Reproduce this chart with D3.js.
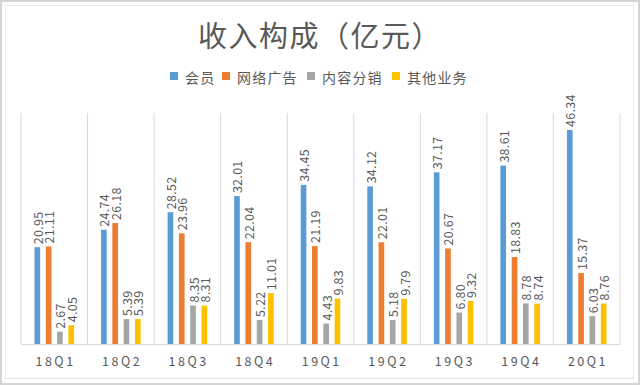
<!DOCTYPE html>
<html>
<head>
<meta charset="utf-8">
<script src="https://cdn.jsdelivr.net/npm/d3@7.9.0/dist/d3.min.js"></script>
<style>
  html, body { margin: 0; padding: 0; background: #fff; }
  svg { display: block; font-family: "Noto Sans CJK SC", "Noto Sans", sans-serif; }
</style>
</head>
<body>
<div id="chart"></div>
<script>
  const quarters = ['18Q1', '18Q2', '18Q3', '18Q4', '19Q1', '19Q2', '19Q3', '19Q4', '20Q1'];
  const seriesNames = ['会员', '网络广告', '内容分销', '其他业务'];
  const member = [20.95, 24.74, 28.52, 32.01, 34.45, 34.12, 37.17, 38.61, 46.34];
  const ads = [21.11, 26.18, 23.96, 22.04, 21.19, 22.01, 20.67, 18.83, 15.37];
  const content = [2.67, 5.39, 8.35, 5.22, 4.43, 5.18, 6.80, 8.78, 6.03];
  const other = [4.05, 5.39, 8.31, 11.01, 9.83, 9.79, 9.32, 8.74, 8.76];
  const colors = ['#5B9BD5', '#ED7D31', '#A5A5A5', '#FFC000'];

  const width = 640;
  const height = 385;
  const plot = { left: 21, right: 620, top: 113, bottom: 344 };
  const textColor = '#595959';

  const values = [member, ads, content, other];
  const rows = quarters.map((q, i) => ({
    quarter: q,
    items: seriesNames.map((s, j) => ({ series: s, idx: j, value: values[j][i] })),
  }));

  const svg = d3.select('#chart').append('svg')
    .attr('width', width)
    .attr('height', height);

  // frame
  svg.append('rect')
    .attr('x', 1).attr('y', 1).attr('width', width - 2).attr('height', height - 2)
    .attr('fill', 'none').attr('stroke', '#d4d4d4').attr('stroke-width', 2);
  svg.append('rect')
    .attr('x', 5.5).attr('y', 5.5).attr('width', 628).attr('height', 373)
    .attr('fill', '#fff').attr('stroke', '#e8e8e8');

  const x0 = d3.scaleBand().domain(quarters).range([plot.left, plot.right]);
  const groupPad = 13.5;
  const x1 = d3.scaleBand().domain(seriesNames)
    .range([groupPad, x0.bandwidth() - groupPad])
    .paddingInner(0.5).paddingOuter(0);
  const y = d3.scaleLinear().domain([0, 50]).range([plot.bottom, plot.top]);

  // title
  svg.append('text')
    .attr('x', 320).attr('y', 33.5)
    .attr('text-anchor', 'middle')
    .attr('dominant-baseline', 'central')
    .attr('font-size', 29)
    .attr('letter-spacing', 1.5)
    .attr('fill', textColor)
    .text('收入构成（亿元）');

  // legend
  const legendX = [170, 222, 307, 392];
  const legend = svg.append('g').attr('class', 'legend');
  seriesNames.forEach((s, i) => {
    legend.append('rect')
      .attr('x', legendX[i]).attr('y', 72)
      .attr('width', 8).attr('height', 8)
      .attr('fill', colors[i]);
    legend.append('text')
      .attr('x', legendX[i] + 15).attr('y', 76.5)
      .attr('dominant-baseline', 'central')
      .attr('font-size', 14)
      .attr('letter-spacing', 1.2)
      .attr('fill', textColor)
      .text(s);
  });

  // category separators
  const edges = quarters.map(q => x0(q)).concat([plot.right]);
  svg.append('g').selectAll('line')
    .data(edges)
    .join('line')
    .attr('x1', d => d).attr('x2', d => d)
    .attr('y1', plot.top).attr('y2', plot.bottom)
    .attr('stroke', '#d9d9d9');

  // bars
  const groups = svg.append('g').selectAll('g')
    .data(rows)
    .join('g')
    .attr('transform', d => `translate(${x0(d.quarter)},0)`);

  groups.selectAll('rect')
    .data(d => d.items)
    .join('rect')
    .attr('x', d => x1(d.series))
    .attr('y', d => y(d.value))
    .attr('width', x1.bandwidth())
    .attr('height', d => y(0) - y(d.value))
    .attr('fill', d => colors[d.idx]);

  groups.selectAll('text')
    .data(d => d.items)
    .join('text')
    .attr('transform', d => `translate(${x1(d.series) + x1.bandwidth() / 2},${y(d.value) - 3}) rotate(-90)`)
    .attr('dominant-baseline', 'central')
    .attr('font-size', 12.5)
    .attr('letter-spacing', 0.3)
    .attr('fill', textColor)
    .text(d => d.value.toFixed(2));

  // baseline axis
  const xAxis = svg.append('g')
    .attr('transform', `translate(0,${plot.bottom})`)
    .call(d3.axisBottom(x0).tickSize(0).tickPadding(13));
  xAxis.select('.domain').attr('stroke', '#d9d9d9').attr('d', `M${plot.left},0.5H${plot.right}`);
  xAxis.selectAll('text')
    .attr('font-family', '"Noto Sans CJK SC", "Noto Sans", sans-serif')
    .attr('font-size', 12.5)
    .attr('letter-spacing', 2.5)
    .attr('dx', 1.25)
    .attr('fill', textColor);
</script>
</body>
</html>
